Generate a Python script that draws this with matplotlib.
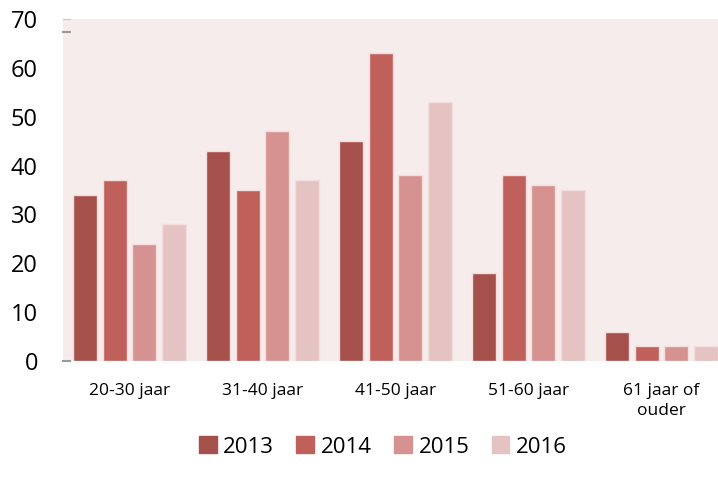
import matplotlib
matplotlib.use("Agg")
import matplotlib.pyplot as plt
import numpy as np
from matplotlib.patches import Patch

# data
categories = ["20-30 jaar", "31-40 jaar", "41-50 jaar", "51-60 jaar", "61 jaar of\nouder"]
years = ["2013", "2014", "2015", "2016"]
v2013 = [34, 43, 45, 18, 6]
v2014 = [37, 35, 63, 38, 3]
v2015 = [24, 47, 38, 36, 3]
v2016 = [28, 37, 53, 35, 3]
yticks = [0, 10, 20, 30, 40, 50, 60, 70]

colors = ["#A5504A", "#C0605A", "#D69290", "#E5C3C2"]
bg = "#F5ECEB"

plt.rcParams["font.family"] = ["Open Sans", "DejaVu Sans"]

fig = plt.figure(figsize=(7.18, 4.84), dpi=100)
ax = fig.add_axes([63 / 718, 1 - 361 / 484, 655 / 718, 342 / 484])
ax.set_facecolor(bg)

x = np.arange(len(categories))
width = 0.18
pitch = 0.225
series = [v2013, v2014, v2015, v2016]
for i, (vals, c) in enumerate(zip(series, colors)):
    ax.bar(x + (i - 1.5) * pitch, vals, width, color=c,
           edgecolor="#F2DEDC", linewidth=1.0, zorder=2)

ax.set_xlim(-0.5, -0.5 + 655 / 133)
ax.set_ylim(0, 70)
ax.set_yticks(yticks)
ax.set_yticklabels([str(t) for t in yticks], fontsize=17)
ax.set_xticks(x)
ax.set_xticklabels(categories, fontsize=12.5, linespacing=1.3)
ax.tick_params(axis="y", length=0, pad=18)
ax.tick_params(axis="x", length=0, pad=16)
for s in ax.spines.values():
    s.set_visible(False)

# small grey marks at the left edge, as in the source chart
ax.plot([0, 0.011], [0, 0], color="#999999", lw=1.5,
        transform=ax.get_yaxis_transform(), clip_on=False)
ax.plot([0, 0.011], [67.3, 67.3], color="#999999", lw=1.5,
        transform=ax.get_yaxis_transform(), clip_on=False)
ax.plot([0, 0.011], [70, 70], color="#CCCCCC", lw=1.0,
        transform=ax.get_yaxis_transform(), clip_on=False)

handles = [Patch(facecolor=c, edgecolor=c) for c in colors]
fig.legend(handles, years, loc="center", bbox_to_anchor=(383 / 718, 1 - 447 / 484),
           ncol=4, frameon=False, fontsize=16, handlelength=0.8, handleheight=0.8,
           handletextpad=0.3, columnspacing=1.0)

fig.savefig("out.png", dpi=100)
